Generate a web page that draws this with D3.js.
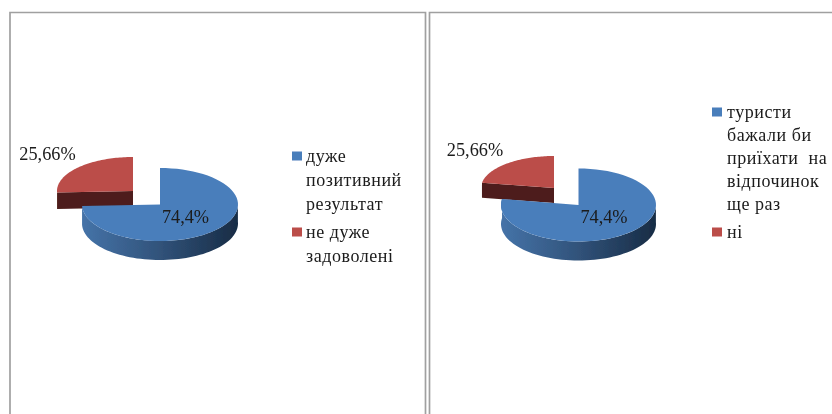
<!DOCTYPE html>
<html>
<head>
<meta charset="utf-8">
<script src="https://cdn.jsdelivr.net/npm/d3@7"></script>
<style>
  html, body { margin: 0; padding: 0; background: #fff; overflow: hidden; }
  text { font-family: "Liberation Serif", serif; fill: #1a1a1a; }
</style>
</head>
<body>
<svg id="chart" width="832" height="414"></svg>
<script>
// Pie shares. Left pie follows its labels, the right one is drawn narrower in
// the picture than its labels say, so its shares are read off the slice edges.
const leftShares = [74.4, 25.66];
const rightShares = [77.6, 22.4];
const pieLabels = ["74,4%", "25,66%"];
const leftLegend = [["дуже", "позитивний", "результат"], ["не дуже", "задоволені"]];
const rightLegend = [["туристи", "бажали би", "приїхати  на", "відпочинок", "ще раз"], ["ні"]];

const blue = "#4a7ebb", red = "#bb4d4a", redSide = "#4d1c1a";
const frameColor = "#a0a0a0";

const svg = d3.select("#chart");
const defs = svg.append("defs");
defs.append("filter").attr("id", "soft")
    .append("feGaussianBlur").attr("stdDeviation", 0.55);

const root = svg.append("g").attr("filter", "url(#soft)");

// Frames, the right one runs off the edge of the picture
root.append("path")
    .attr("d", "M10,420V12.5H425.5V420")
    .attr("fill", "none").attr("stroke", frameColor).attr("stroke-width", 1.7);
root.append("path")
    .attr("d", "M429.5,420V12.5H840")
    .attr("fill", "none").attr("stroke", frameColor).attr("stroke-width", 1.7);

// Projects a pie angle (clockwise from top) onto the tilted ellipse
function pt(c, a) {
    return [c.x + c.rx * Math.sin(a), c.y - c.ry * Math.cos(a)];
}

function drawPie(cfg, shares) {
    const g = root.append("g");
    const slices = d3.pie().sort(null).value(d => d)(shares);
    const arcPts = (c, a0, a1) => d3.range(0, 65).map(i => pt(c, a0 + (a1 - a0) * i / 64));
    const line = d3.line();

    // red slice first, it sits behind the blue one
    const r = slices[1], c1 = cfg.red;
    const rEnd = pt(c1, r.startAngle);
    g.append("path")
        .attr("d", line([[c1.x, c1.y], rEnd, [rEnd[0], rEnd[1] + cfg.redDepth], [c1.x, c1.y + cfg.redDepth]]) + "Z")
        .attr("fill", redSide);
    g.append("path")
        .attr("d", line([[c1.x, c1.y]].concat(arcPts(c1, r.startAngle, r.endAngle))) + "Z")
        .attr("fill", red);

    // blue slice: side wall with its gradient, then top
    const b = slices[0], c0 = cfg.blue;
    const grad = defs.append("linearGradient").attr("id", "blueSide-" + cfg.id)
        .attr("gradientUnits", "userSpaceOnUse")
        .attr("x1", c0.x - c0.rx).attr("x2", c0.x + c0.rx).attr("y1", 0).attr("y2", 0);
    grad.append("stop").attr("offset", "0%").attr("stop-color", "#4573a8");
    grad.append("stop").attr("offset", "45%").attr("stop-color", "#33567f");
    grad.append("stop").attr("offset", "100%").attr("stop-color", "#182c45");

    const front = arcPts(c0, Math.PI / 2 - 0.05, b.endAngle);
    const frontLow = front.map(p => [p[0], p[1] + cfg.depth]).reverse();
    g.append("path")
        .attr("d", line(front.concat(frontLow)) + "Z")
        .attr("fill", "url(#blueSide-" + cfg.id + ")");
    g.append("path")
        .attr("d", line([[c0.x, c0.y]].concat(arcPts(c0, b.startAngle, b.endAngle))) + "Z")
        .attr("fill", blue);

    // value labels
    g.append("text").attr("x", cfg.blueLabel[0]).attr("y", cfg.blueLabel[1])
        .attr("text-anchor", "middle").attr("font-size", 18.3).text(pieLabels[0]);
    g.append("text").attr("x", cfg.redLabel[0]).attr("y", cfg.redLabel[1])
        .attr("text-anchor", "middle").attr("font-size", 18.3).text(pieLabels[1]);

    // legend
    const colors = [blue, red];
    cfg.legend.forEach((lines, i) => {
        const y0 = cfg.legendY[i];
        g.append("rect").attr("x", cfg.legendX).attr("y", y0 - 9)
            .attr("width", 10).attr("height", 9).attr("fill", colors[i]);
        lines.forEach((t, j) => {
            g.append("text").attr("x", cfg.legendX + cfg.legendGap).attr("y", y0 + 1.5 + j * cfg.leading)
                .attr("font-size", 18).attr("letter-spacing", 0.55)
                .style("white-space", "pre").text(t);
        });
    });
}

drawPie({
    id: "l", depth: 19, redDepth: 16.5,
    blue: { x: 160, y: 204.5, rx: 78, ry: 36.5 },
    red: { x: 133, y: 191, rx: 76, ry: 34 },
    blueLabel: [185.5, 223], redLabel: [47.5, 160],
    legend: leftLegend, legendX: 292, legendY: [160.5, 236.5], legendGap: 14, leading: 23.8
}, leftShares);

drawPie({
    id: "r", depth: 19, redDepth: 15,
    blue: { x: 578.5, y: 205, rx: 77.5, ry: 36.5 },
    red: { x: 554, y: 188, rx: 73, ry: 32 },
    blueLabel: [604, 223], redLabel: [475, 156],
    legend: rightLegend, legendX: 712, legendY: [116.5, 236.5], legendGap: 15, leading: 23
}, rightShares);
</script>
</body>
</html>
